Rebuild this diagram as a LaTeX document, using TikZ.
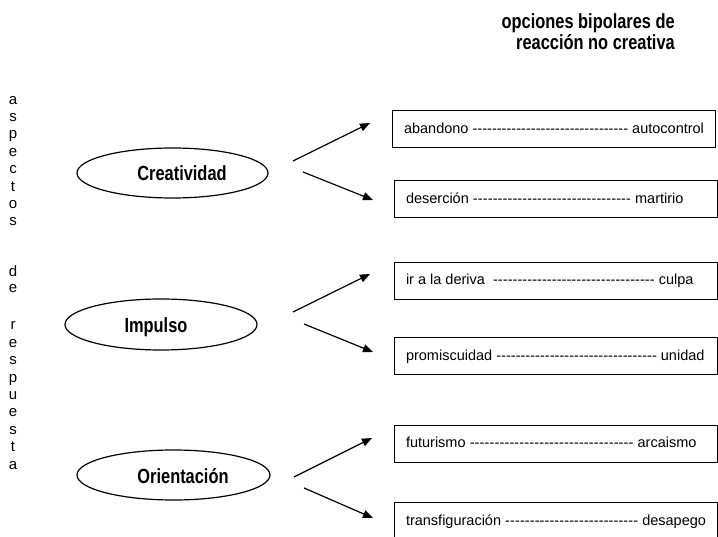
\documentclass[tikz,border=0pt]{standalone}
\usepackage{fontspec}
\usepackage{graphicx}
\setmainfont{Liberation Sans}
\usetikzlibrary{arrows.meta,shapes.geometric}
\newcommand{\bipline}[3]{\hbox to 300pt{\hbox to #1pt{#2\ \xleaders\hbox{-}\hfill\ #3}\hfill}}
\newcommand{\cond}[1]{\scalebox{0.8}[1]{#1}}
\begin{document}
\begin{tikzpicture}[x=1pt,y=-1pt,
  optbox/.style={draw, line width=1pt, rectangle, minimum height=37pt, inner xsep=11.5pt, inner ysep=0pt, anchor=west, text height=10.5pt, text depth=3pt, font=\fontsize{14.5}{17}\selectfont},
  ell/.style={draw, ellipse, line width=1.2pt, inner sep=0pt},
  elltext/.style={font=\bfseries\fontsize{20.5}{22}\selectfont, inner sep=0pt, text height=14.7pt, text depth=0pt},
  vert/.style={font=\fontsize{15}{17.4}\selectfont, align=center, inner sep=0pt},
  arr/.style={line width=1.2pt, -{Triangle[length=10pt,width=8pt]}}]
\fill[white] (0,0) rectangle (718,537);
\useasboundingbox (0,0) rectangle (718,537);

% header
\node[font=\bfseries\fontsize{20.5}{21}\selectfont, align=right, anchor=east, inner sep=0pt] (head) at (675,31.5)
  {\cond{opciones bipolares de}\\\cond{reacción no creativa}};

% vertical words
\node[vert] (w1) at (13,161) {a\\s\\p\\e\\c\\t\\o\\s};
\node[vert, font=\fontsize{15}{16}\selectfont] (w2) at (13,279) {d\\e};
\node[vert] (w3) at (13,395.5) {r\\e\\s\\p\\u\\e\\s\\t\\a};

% ellipses
\node[ell, minimum width=191pt, minimum height=50pt] (cre) at (172.5,173) {};
\node[elltext] (creT) at (182,173) {\cond{Creatividad}};
\node[ell, minimum width=192pt, minimum height=51pt] (imp) at (161,324.5) {};
\node[elltext] (impT) at (156,325) {\cond{Impulso}};
\node[ell, minimum width=193pt, minimum height=50pt] (ori) at (173.5,475) {};
\node[elltext] (oriT) at (183,476) {\cond{Orientación}};

% option boxes
\node[optbox] (b1) at (392,129.5) {\bipline{300}{abandono}{autocontrol}};
\node[optbox] (b2) at (394,199.5) {\bipline{277.5}{deserción}{martirio}};
\node[optbox] (b3) at (394,281) {\bipline{287.5}{ir a la deriva\ }{culpa}};
\node[optbox] (b4) at (394,356.5) {\bipline{298.5}{promiscuidad}{unidad}};
\node[optbox] (b5) at (394,444) {\bipline{290.5}{futurismo}{arcaismo}};
\node[optbox, minimum height=40pt] (b6) at (394,522) {\bipline{300}{transfiguración}{desapego}};

% arrow end points
\coordinate (cUs) at (293,161); \coordinate (cUe) at (370,123);
\coordinate (cDs) at (303,172); \coordinate (cDe) at (373,200);
\coordinate (iUs) at (293,312); \coordinate (iUe) at (370,274);
\coordinate (iDs) at (304,324); \coordinate (iDe) at (373,352);
\coordinate (oUs) at (294,477); \coordinate (oUe) at (372,438);
\coordinate (oDs) at (304,488); \coordinate (oDe) at (373,518);

\draw[arr] (cUs) -- (cUe);
\draw[arr] (cDs) -- (cDe);
\draw[arr] (iUs) -- (iUe);
\draw[arr] (iDs) -- (iDe);
\draw[arr] (oUs) -- (oUe);
\draw[arr] (oDs) -- (oDe);
\end{tikzpicture}
\end{document}
